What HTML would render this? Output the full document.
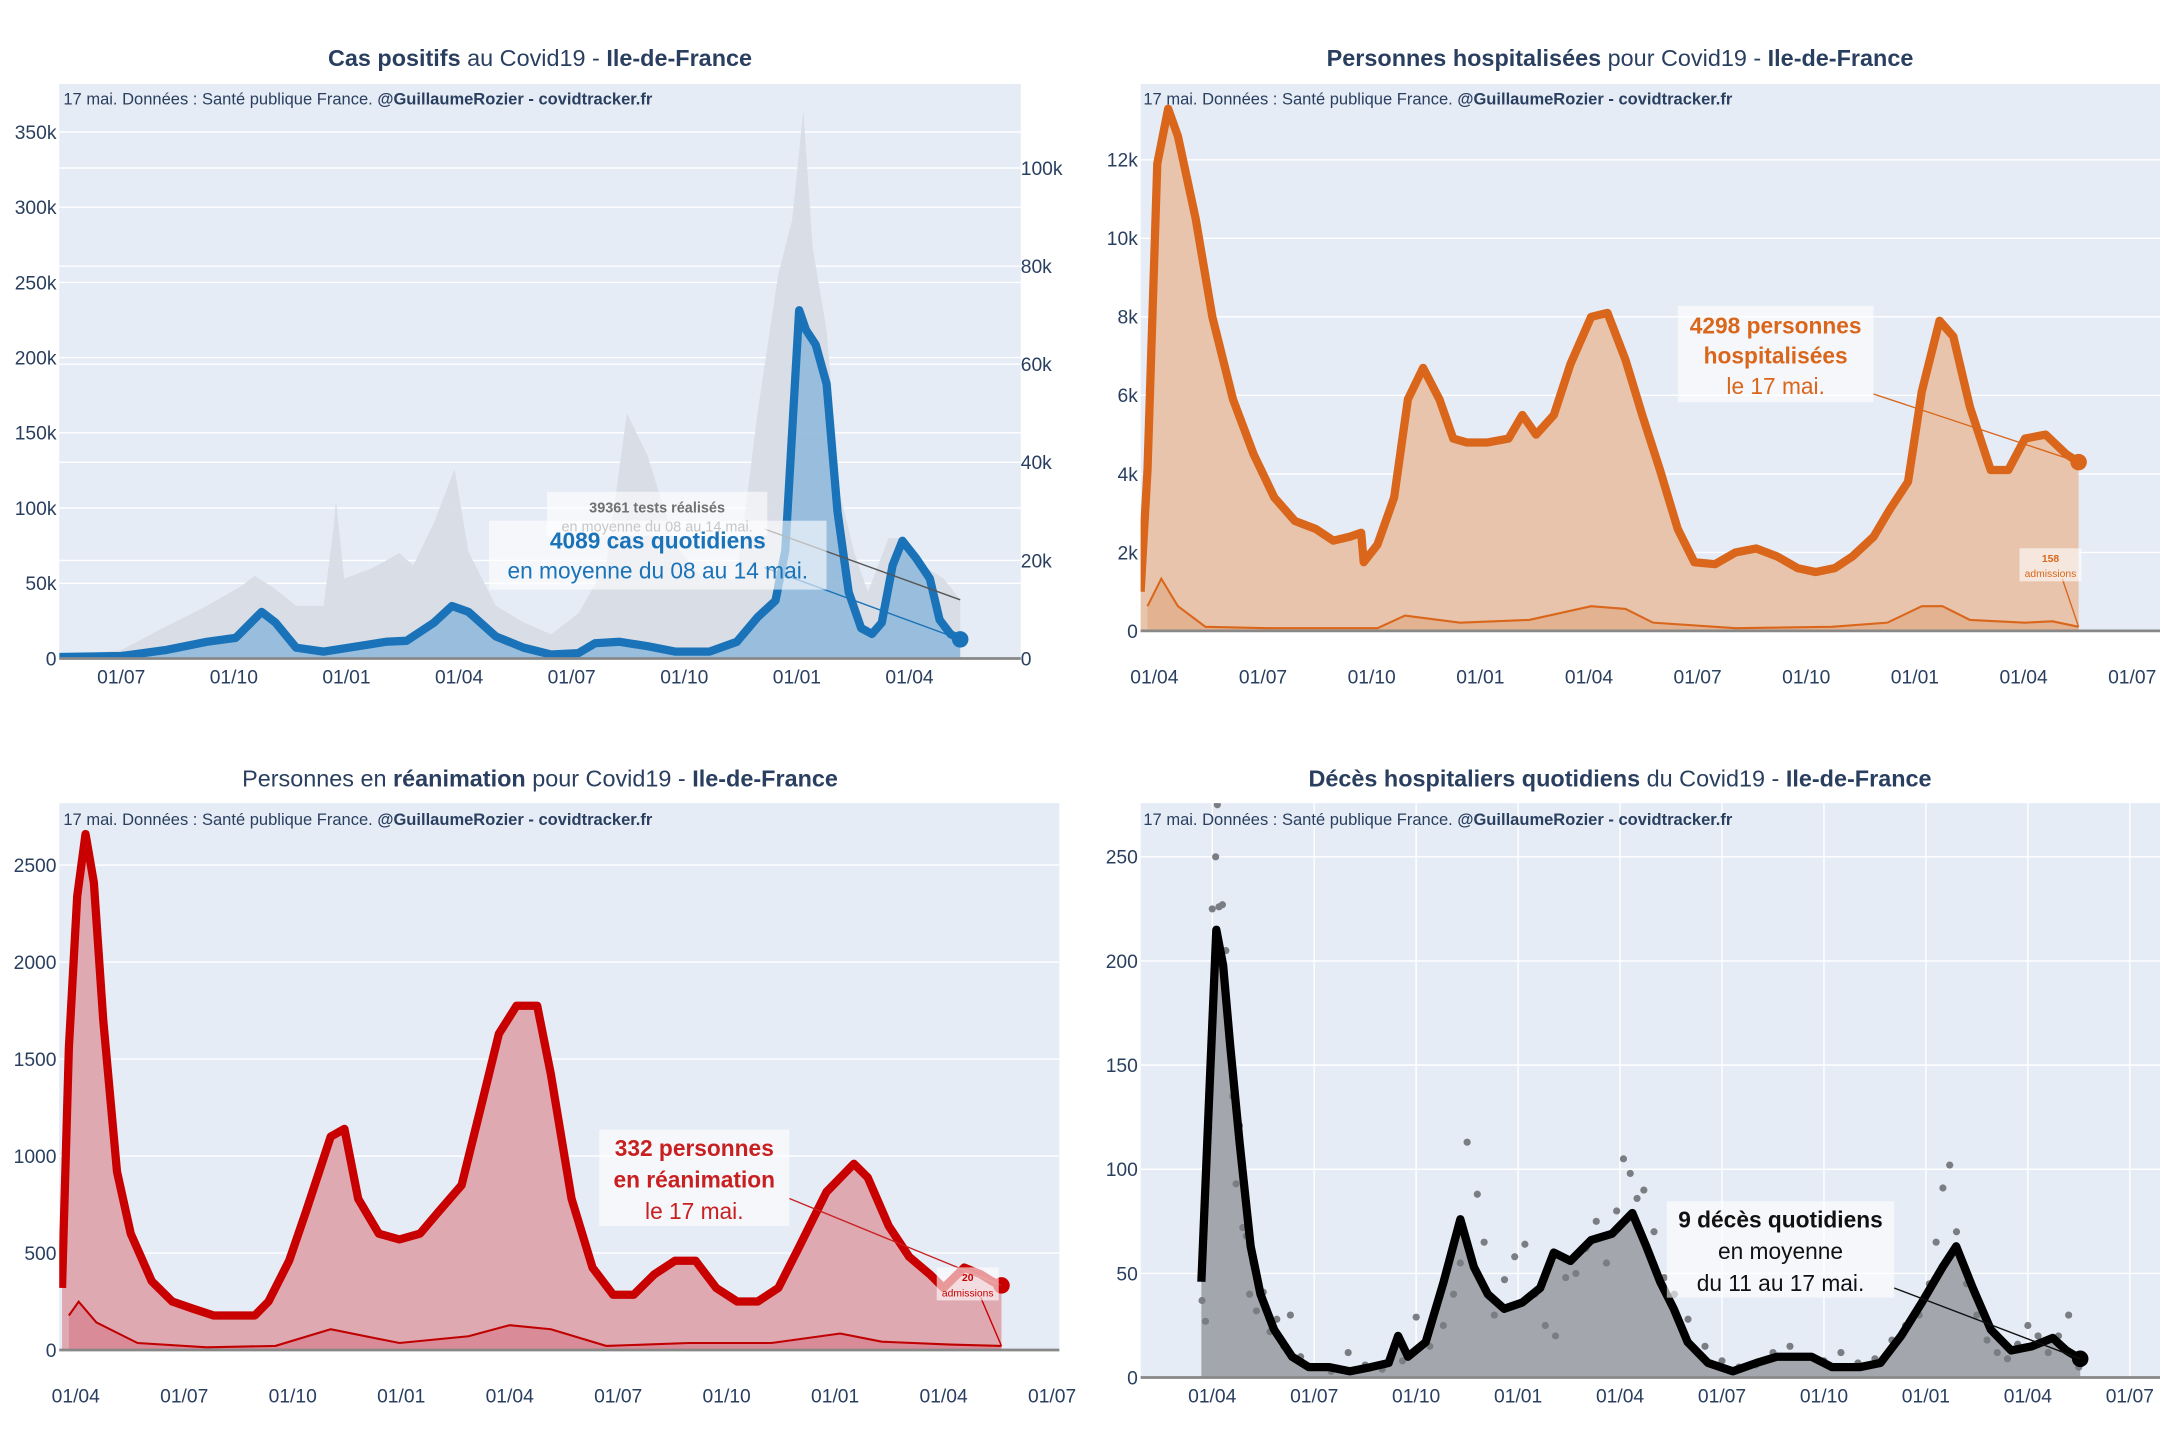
<!DOCTYPE html>
<html><head><meta charset="utf-8"><title>Covid19 Ile-de-France</title>
<style>
html,body{margin:0;padding:0;background:#fff;}
svg{display:block;font-family:"Liberation Sans",sans-serif;}
.tick{fill:#2a3f5f;font-size:14px;}
.title{fill:#2a3f5f;font-size:17px;}
.sub{fill:#2a3f5f;font-size:12px;}
</style></head>
<body>
<svg id="chart" width="2160" height="1440" viewBox="0 0 1568 1045.33" xmlns="http://www.w3.org/2000/svg"></svg>
<script>
// ---------- data (x in months since 2020-01-01; 6 = 01/07/2020) ----------
const casesMonths = [4.35,6,7.17,8.28,9.05,9.74,10.11,10.66,11.39,12.06,13.05,13.6,14.33,14.81,15.25,15.98,16.72,17.45,18.18,18.62,19.28,20.02,20.75,21.67,22.4,22.95,23.43,23.69,24.06,24.24,24.5,24.79,25.08,25.38,25.71,26,26.26,26.55,26.81,27.17,27.54,27.8,28.09,28.35];
const casesValues = [300,500,1700,3400,4200,9500,7300,2200,1400,2200,3400,3600,7300,10700,9500,4500,2200,800,1100,3100,3400,2500,1400,1400,3400,8400,11800,22000,71000,67000,64000,56000,30000,13500,6200,5000,7300,19000,24000,20500,16300,7900,5000,3900];
const testsMonths = [4.35,6,7.17,8.28,9.19,9.56,10.11,10.66,11.39,11.65,11.72,11.94,12.68,13.41,13.78,14.33,14.88,15.25,15.98,16.72,17.45,18.18,18.92,19.47,20.02,20.75,21.49,22.4,22.95,23.5,23.87,24.17,24.42,24.79,25.16,25.52,25.89,26.44,26.81,27.36,27.91,28.35];
const testsValues = [1800,5500,21000,35000,48000,55000,46000,35000,35000,85000,105000,53000,60000,70000,62000,90000,126000,71000,35000,24000,16000,30000,62000,163000,135000,76000,53000,53000,163000,255000,291000,364000,273000,218000,108000,71000,44000,80000,80000,62000,53000,39000];
const casesLeftTicks = [0,50000,100000,150000,200000,250000,300000,350000];
const casesLeftLabels = ["0","50k","100k","150k","200k","250k","300k","350k"];
const casesRightTicks = [0,20000,40000,60000,80000,100000];
const casesRightLabels = ["0","20k","40k","60k","80k","100k"];

const hospMonths = [2.62,2.81,3.08,3.38,3.65,4.14,4.6,5.17,5.74,6.31,6.88,7.45,7.94,8.4,8.71,8.78,9.16,9.62,10,10.42,10.87,11.25,11.63,12.2,12.78,13.16,13.54,14.03,14.49,15.06,15.51,16.01,16.47,16.96,17.45,17.91,18.48,19.05,19.62,20.19,20.76,21.26,21.79,22.28,22.86,23.31,23.81,24.19,24.68,25.06,25.52,26.09,26.58,27.04,27.61,28.18,28.52];
const hospValues = [1000,4100,11900,13300,12600,10500,8000,5900,4500,3400,2800,2600,2300,2400,2500,1750,2200,3400,5900,6700,5900,4900,4800,4800,4900,5500,5000,5500,6800,8000,8100,6900,5500,4100,2600,1750,1700,2000,2100,1900,1600,1500,1600,1900,2400,3100,3800,6100,7900,7500,5700,4100,4100,4900,5000,4500,4300];
const hospAdmMonths = [2.81,3.19,3.65,4.41,6.12,9.16,9.92,11.44,13.35,15.06,16.01,16.77,19.05,21.71,23.24,24.19,24.76,25.52,27.04,27.8,28.52];
const hospAdmValues = [630,1330,630,105,70,70,390,210,280,630,560,210,70,105,210,630,630,280,210,245,105];
const hospTicks = [0,2000,4000,6000,8000,10000,12000];
const hospLabels = ["0","2k","4k","6k","8k","10k","12k"];

const reaMonths = [2.62,2.81,3.04,3.27,3.5,3.76,4.14,4.52,5.1,5.67,6.24,6.81,7.38,7.95,8.33,8.9,9.36,10.05,10.43,10.81,11.38,11.95,12.52,13.02,13.67,14.24,14.7,15.19,15.76,16.14,16.71,17.29,17.86,18.43,19,19.57,20.14,20.71,21.29,21.86,22.43,23,23.76,24.52,24.9,25.48,26.05,26.62,27,27.57,28.03,28.33,28.6];
const reaValues = [320,1560,2340,2660,2410,1700,920,600,355,250,213,178,178,178,250,460,710,1100,1140,780,600,570,600,710,850,1280,1630,1775,1775,1420,780,425,285,285,390,460,460,320,250,250,320,530,815,960,890,640,480,390,320,425,390,355,333];
const reaAdmMonths = [2.81,3.08,3.57,4.71,6.62,8.52,10.05,11.95,13.86,15,16.14,17.67,19.95,22.24,24.14,25.29,27.19,28.6];
const reaAdmValues = [178,249,142,36,14,21,107,36,71,128,107,21,36,36,85,43,28,21];
const reaTicks = [0,500,1000,1500,2000,2500];
const reaLabels = ["0","500","1000","1500","2000","2500"];

const decMonths = [2.68,2.92,3.12,3.32,3.53,3.81,4.13,4.42,4.82,5.35,5.84,6.45,7.05,7.66,8.19,8.47,8.76,9.28,9.81,10.3,10.7,11.11,11.59,12.12,12.65,13.05,13.54,14.15,14.76,15.36,15.77,16.18,16.58,16.99,17.59,18.32,19.01,19.62,20.23,20.63,21.24,22.05,22.66,23.27,23.88,24.49,24.89,25.38,25.91,26.51,27.12,27.73,28.13,28.54];
const decValues = [46,139,215,198,159,112,63,40,23,10,5,5,3,5,7,20,10,17,46,76,53,40,33,36,43,60,56,66,69,79,63,46,33,17,7,3,7,10,10,10,5,5,7,20,36,53,63,43,23,13,15,19,13,9];
const decDotMonths = [2.7,2.8,2.9,3.0,3.05,3.1,3.15,3.2,3.3,3.4,3.5,3.6,3.7,3.8,3.9,4.0,4.1,4.2,4.3,4.5,4.7,4.9,5.1,5.3,5.6,6.0,6.5,7.0,7.5,8.0,8.6,9.0,9.4,9.8,10.1,10.3,10.5,10.8,11.0,11.3,11.6,11.9,12.2,12.5,12.8,13.1,13.4,13.7,14.0,14.3,14.6,14.9,15.1,15.3,15.5,15.7,16.0,16.3,16.6,17.0,17.5,18.0,18.5,19.0,19.5,20.0,20.5,21.0,21.5,22.0,22.5,23.0,23.4,23.8,24.1,24.3,24.5,24.7,24.9,25.2,25.5,25.8,26.1,26.4,26.7,27.0,27.3,27.6,27.9,28.2,28.5];
const decDotValues = [37,27,120,225,196,250,275,226,227,205,164,135,93,121,72,68,40,55,32,41,22,28,15,30,10,5,3,12,6,4,8,29,15,25,40,55,113,88,65,30,47,58,64,40,25,20,48,50,62,75,55,80,105,98,86,90,70,48,40,28,15,8,5,6,12,15,10,8,12,7,9,18,25,30,45,65,91,102,70,45,30,18,12,9,16,25,20,12,20,30,5];
const decTicks = [0,50,100,150,200,250];
const decLabels = ["0","50","100","150","200","250"];

const monthTicks = [3,6,9,12,15,18,21,24,27,30];
const monthLabels = ["01/04","01/07","01/10","01/01","01/04","01/07","01/10","01/01","01/04","01/07"];

// ---------- helpers ----------
const NS = "http://www.w3.org/2000/svg";
const root = document.getElementById("chart");
function mk(tag, attrs, parent) {
  const el = document.createElementNS(NS, tag);
  for (const k in attrs) el.setAttribute(k, attrs[k]);
  (parent || root).appendChild(el);
  return el;
}
function linePath(ms, vs, xs, ys) {
  let d = "";
  const n = Math.min(ms.length, vs.length);
  for (let i = 0; i < n; i++) d += (i ? "L" : "M") + xs(ms[i]).toFixed(2) + "," + ys(vs[i]).toFixed(2);
  return d;
}
function areaPath(ms, vs, xs, ys) {
  const n = Math.min(ms.length, vs.length);
  return linePath(ms, vs, xs, ys) + "L" + xs(ms[n - 1]).toFixed(2) + "," + ys(0) + "L" + xs(ms[0]).toFixed(2) + "," + ys(0) + "Z";
}
function panelBase(g, x0, y0, x1, y1, id) {
  const bg = mk("rect", {x: x0, y: y0, width: x1 - x0, height: y1 - y0, fill: "#e5ecf6"}, g);
  
  
  const cp = mk("clipPath", {id: id}, g);
  mk("rect", {x: x0, y: y0, width: x1 - x0, height: y1 - y0}, cp);
}
function yGrid(g, ticks, labels, ys, x0, x1, lx, anchor, name) {
  for (let i = 0; i < ticks.length; i++) {
    const y = ys(ticks[i]);
    if (i > 0) {
      const gl = mk("line", {x1: x0, x2: x1, y1: y, y2: y, stroke: "#ffffff", "stroke-width": 1}, g);
      
      
    }
    const t = mk("text", {x: lx, y: y + 5, class: "tick", "text-anchor": anchor}, g);
    t.textContent = labels[i];
    
    
  }
}
function xTicks(g, xs, x0, x1, ly, y0, y1, grid) {
  for (let i = 0; i < monthTicks.length; i++) {
    const x = xs(monthTicks[i]);
    if (x < x0 - 15 || x > x1) continue;
    if (grid && x > x0 && x < x1) {
      const gl = mk("line", {x1: x, x2: x, y1: y0, y2: y1, stroke: "#ffffff", "stroke-width": 1}, g);
      
      
    }
    const t = mk("text", {x: x, y: ly, class: "tick", "text-anchor": "middle"}, g);
    t.textContent = monthLabels[i];
    
    
  }
}
function subtitle(g, x, y) {
  const t = mk("text", {x: x, y: y, class: "sub"}, g);
  
  
  const a = mk("tspan", {}, t); a.textContent = "17 mai. Données : Santé publique France. ";
  const b = mk("tspan", {"font-weight": "bold"}, t); b.textContent = "@GuillaumeRozier - covidtracker.fr";
}
function title(g, x, y, parts) {
  const t = mk("text", {x: x, y: y, class: "title", "text-anchor": "middle"}, g);
  
  
  for (const p of parts) {
    const s = mk("tspan", p[1] ? {"font-weight": "bold"} : {}, t);
    s.textContent = p[0];
  }
}
function annot(g, bx, by, bw, bh, lines, color, size, lx1, ly1, lx2, ly2, lineColor) {
  const l = mk("line", {x1: lx1, y1: ly1, x2: lx2, y2: ly2, stroke: lineColor || color, "stroke-width": 1}, g);
  
  
  const r = mk("rect", {x: bx, y: by, width: bw, height: bh, fill: "#ffffff", "fill-opacity": 0.6}, g);
  
  
  for (const ln of lines) {
    const t = mk("text", {x: bx + bw / 2, y: ln[1], "text-anchor": "middle", fill: color, "font-size": size, "font-weight": ln[2] ? "bold" : "normal"}, g);
    t.textContent = ln[0];
    
    
  }
}

// ---------- Panel 1: cas positifs ----------
(function () {
  const g = mk("g", {});
  
  
  const x0 = 43, x1 = 741, y0 = 61, y1 = 478;
  const xs = m => 88 + (m - 6) * 27.25;
  const yL = v => 478 - v * 54.6 / 50000;
  const yR = v => 478 - v * 71.2 / 20000;
  panelBase(g, x0, y0, x1, y1, "c1");
  yGrid(g, casesLeftTicks, casesLeftLabels, yL, x0, x1, 41, "end", "y-left-tick-label");
  yGrid(g, casesRightTicks, casesRightLabels, yR, x0, x1, 741, "start", "y-right-tick-label");
  const pg = mk("g", {"clip-path": "url(#c1)"}, g);
  const ta = mk("path", {d: areaPath(testsMonths, testsValues, xs, yL), fill: "#d6dbe4", "fill-opacity": 0.9}, pg);
  
  
  const ca = mk("path", {d: areaPath(casesMonths, casesValues, xs, yR), fill: "#7fb0d8", "fill-opacity": 0.7}, pg);
  
  
  const cl = mk("path", {d: linePath(casesMonths, casesValues, xs, yR), fill: "none", stroke: "#1a73b8", "stroke-width": 6, "stroke-linejoin": "round"}, pg);
  
  
  const n = casesMonths.length - 1;
  const dot = mk("circle", {cx: xs(casesMonths[n]), cy: yR(casesValues[n]), r: 6, fill: "#1a73b8"}, g);
  
  
  const ax = mk("line", {x1: x0, x2: x1, y1: 478, y2: 478, stroke: "#888", "stroke-width": 2}, g);
  
  
  xTicks(g, xs, x0, x1, 496, y0, y1, false);
  subtitle(g, 46, 76);
  title(g, 392, 48, [["Cas positifs", true], [" au Covid19 - ", false], ["Ile-de-France", true]]);
  const tn = testsMonths.length - 1;
  annot(g, 397, 357, 160, 32, [["39361 tests réalisés", 372, true], ["en moyenne du 08 au 14 mai.", 386, false]], "#707070", 10.5, 555, 384, xs(testsMonths[tn]), yL(testsValues[tn]), "#555");
  annot(g, 355, 378, 245, 50, [["4089 cas quotidiens", 398, true], ["en moyenne du 08 au 14 mai.", 420, false]], "#1a73b8", 16.5, 555, 412, xs(casesMonths[n]), yR(casesValues[n]));
})();

// ---------- Panel 2: hospitalisations ----------
(function () {
  const g = mk("g", {});
  
  
  const x0 = 828, x1 = 1568, y0 = 61, y1 = 458;
  const xs = m => 838 + (m - 3) * 26.29;
  const ys = v => 458 - v * 28.5 / 1000;
  panelBase(g, x0, y0, x1, y1, "c2");
  yGrid(g, hospTicks, hospLabels, ys, x0, x1, 826, "end", "y-tick-label");
  const pg = mk("g", {"clip-path": "url(#c2)"}, g);
  const a = mk("path", {d: areaPath(hospMonths, hospValues, xs, ys), fill: "#e7c4ab"}, pg);
  
  
  const aa = mk("path", {d: areaPath(hospAdmMonths, hospAdmValues, xs, ys), fill: "#e0a077", "fill-opacity": 0.5}, pg);
  
  
  const al = mk("path", {d: linePath(hospAdmMonths, hospAdmValues, xs, ys), fill: "none", stroke: "#d9661b", "stroke-width": 1.5}, pg);
  
  
  const l = mk("path", {d: linePath(hospMonths, hospValues, xs, ys), fill: "none", stroke: "#d9661b", "stroke-width": 6, "stroke-linejoin": "round"}, pg);
  
  
  const n = hospMonths.length - 1;
  const dot = mk("circle", {cx: xs(hospMonths[n]), cy: ys(hospValues[n]), r: 6, fill: "#d9661b"}, g);
  
  
  const ax = mk("line", {x1: x0, x2: x1, y1: 458, y2: 458, stroke: "#888", "stroke-width": 2}, g);
  
  
  xTicks(g, xs, x0, x1, 496, y0, y1, false);
  subtitle(g, 830, 76);
  title(g, 1176, 48, [["Personnes hospitalisées", true], [" pour Covid19 - ", false], ["Ile-de-France", true]]);
  annot(g, 1218, 222, 142, 70, [["4298 personnes", 242, true], ["hospitalisées", 264, true], ["le 17 mai.", 286, false]], "#d9661b", 16.5, 1360, 286, xs(hospMonths[n]), ys(hospValues[n]));
  const an = hospAdmMonths.length - 1;
  annot(g, 1466, 398, 45, 24, [["158", 408, true], ["admissions", 419, false]], "#d9661b", 7.5, 1497, 420, xs(hospAdmMonths[an]), ys(hospAdmValues[an]));
})();

// ---------- Panel 3: réanimation ----------
(function () {
  const g = mk("g", {});
  
  
  const x0 = 43, x1 = 769, y0 = 583, y1 = 980;
  const xs = m => 55 + (m - 3) * 26.25;
  const ys = v => 980 - v * 0.1408;
  panelBase(g, x0, y0, x1, y1, "c3");
  yGrid(g, reaTicks, reaLabels, ys, x0, x1, 41, "end", "y-tick-label");
  const pg = mk("g", {"clip-path": "url(#c3)"}, g);
  const a = mk("path", {d: areaPath(reaMonths, reaValues, xs, ys), fill: "#dfa9b2"}, pg);
  
  
  const aa = mk("path", {d: areaPath(reaAdmMonths, reaAdmValues, xs, ys), fill: "#d06070", "fill-opacity": 0.4}, pg);
  
  
  const al = mk("path", {d: linePath(reaAdmMonths, reaAdmValues, xs, ys), fill: "none", stroke: "#c00000", "stroke-width": 1.5}, pg);
  
  
  const l = mk("path", {d: linePath(reaMonths, reaValues, xs, ys), fill: "none", stroke: "#c80000", "stroke-width": 6, "stroke-linejoin": "round"}, pg);
  
  
  const n = reaMonths.length - 1;
  const dot = mk("circle", {cx: xs(reaMonths[n]), cy: ys(reaValues[n]), r: 6, fill: "#c80000"}, g);
  
  
  const ax = mk("line", {x1: x0, x2: x1, y1: 980, y2: 980, stroke: "#888", "stroke-width": 2}, g);
  
  
  xTicks(g, xs, x0, x1, 1018, y0, y1, false);
  subtitle(g, 46, 599);
  title(g, 392, 571, [["Personnes en ", false], ["réanimation", true], [" pour Covid19 - ", false], ["Ile-de-France", true]]);
  annot(g, 435, 820, 138, 70, [["332 personnes", 839, true], ["en réanimation", 862, true], ["le 17 mai.", 885, false]], "#c82020", 16.5, 573, 870, xs(reaMonths[n]), ys(reaValues[n]));
  const an = reaAdmMonths.length - 1;
  annot(g, 680, 920, 45, 24, [["20", 930, true], ["admissions", 941, false]], "#c80000", 7.5, 712, 942, xs(reaAdmMonths[an]), ys(reaAdmValues[an]));
})();

// ---------- Panel 4: décès ----------
(function () {
  const g = mk("g", {});
  
  
  const x0 = 828, x1 = 1568, y0 = 583, y1 = 1000;
  const xs = m => 880 + (m - 3) * 24.67;
  const ys = v => 1000 - v * 1.512;
  panelBase(g, x0, y0, x1, y1, "c4");
  yGrid(g, decTicks, decLabels, ys, x0, x1, 826, "end", "y-tick-label");
  xTicks(g, xs, x0, x1, 1018, y0, y1, true);
  const pg = mk("g", {"clip-path": "url(#c4)"}, g);
  const a = mk("path", {d: areaPath(decMonths, decValues, xs, ys), fill: "#a3a7ad"}, pg);
  
  
  const nd = Math.min(decDotMonths.length, decDotValues.length);
  for (let i = 0; i < nd; i++) {
    const c = mk("circle", {cx: xs(decDotMonths[i]), cy: ys(decDotValues[i]), r: 2.6, fill: "#7a7d82"}, pg);
    
    
  }
  const l = mk("path", {d: linePath(decMonths, decValues, xs, ys), fill: "none", stroke: "#000", "stroke-width": 6, "stroke-linejoin": "round"}, pg);
  
  
  const n = decMonths.length - 1;
  const dot = mk("circle", {cx: xs(decMonths[n]), cy: ys(decValues[n]), r: 6, fill: "#000"}, g);
  
  
  const ax = mk("line", {x1: x0, x2: x1, y1: 1000, y2: 1000, stroke: "#888", "stroke-width": 2}, g);
  
  
  subtitle(g, 830, 599);
  title(g, 1176, 571, [["Décès hospitaliers quotidiens", true], [" du Covid19 - ", false], ["Ile-de-France", true]]);
  annot(g, 1210, 872, 165, 70, [["9 décès quotidiens", 891, true], ["en moyenne", 914, false], ["du 11 au 17 mai.", 937, false]], "#111", 16.5, 1375, 935, xs(decMonths[n]), ys(decValues[n]));
})();
</script>
</body></html>
